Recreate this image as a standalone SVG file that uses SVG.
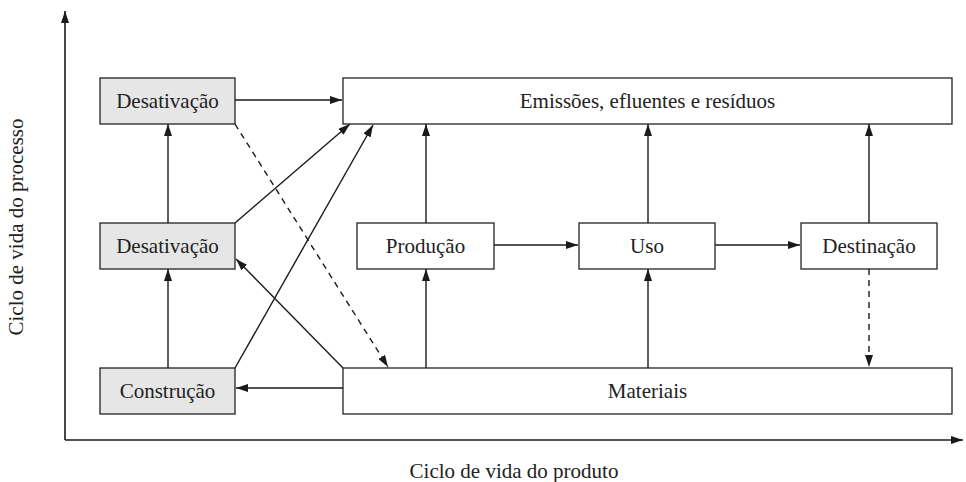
<svg xmlns="http://www.w3.org/2000/svg" width="966" height="482" viewBox="0 0 966 482">
<defs>
<marker id="ah" viewBox="0 0 12 8" refX="12" refY="4" markerWidth="12" markerHeight="8" markerUnits="userSpaceOnUse" orient="auto">
<path d="M0,0 L12,4 L0,8 Z" fill="#1a1a1a"/>
</marker>
</defs>
<style>
text{font-family:"Liberation Serif","Times New Roman",serif;font-size:21px;fill:#222;}
.box{fill:#fff;stroke:#222;stroke-width:1.3;}
.grey{fill:#e6e6e6;stroke:#222;stroke-width:1.3;}
.c{fill:none;stroke:#1a1a1a;stroke-width:1.4;marker-end:url(#ah);}
.d{stroke-dasharray:6,5;}
.axis{fill:none;stroke:#1a1a1a;stroke-width:1.6;marker-end:url(#ah);}
</style>
<rect width="966" height="482" fill="#fff"/>
<g id="axes">
<path class="axis" d="M65,440 L65,11"/>
<path class="axis" d="M65,440 L963,440"/>
<text x="514" y="478" text-anchor="middle">Ciclo de vida do produto</text>
<text x="0" y="0" text-anchor="middle" transform="translate(23,227) rotate(-90)">Ciclo de vida do processo</text>
</g>
<g id="connectors">
<path class="c" d="M235,100 L342,100"/>
<path class="c" d="M168,223 L168,124"/>
<path class="c" d="M168,368 L168,269"/>
<path class="c" d="M235,223 L350,124"/>
<path class="c" d="M235,368 L373,125"/>
<path class="c" d="M343,368 L236,259"/>
<path class="c" d="M343,388 L236,388"/>
<path class="c d" d="M235,124 L388,367"/>
<path class="c" d="M426,368 L426,269"/>
<path class="c" d="M426,223 L426,124"/>
<path class="c" d="M494,245 L578,245"/>
<path class="c" d="M648,223 L648,124"/>
<path class="c" d="M648,368 L648,269"/>
<path class="c" d="M715,245 L800,245"/>
<path class="c" d="M869,223 L869,124"/>
<path class="c d" d="M869,269 L869,367"/>
</g>
<g id="desativacao-top">
<rect class="grey" x="100" y="78" width="135" height="46"/>
<text x="167.5" y="108" text-anchor="middle">Desativação</text>
</g>
<g id="emissoes">
<rect class="box" x="343" y="78" width="609" height="46"/>
<text x="647.5" y="108" text-anchor="middle">Emissões, efluentes e resíduos</text>
</g>
<g id="desativacao-mid">
<rect class="grey" x="100" y="223" width="135" height="46"/>
<text x="167.5" y="253" text-anchor="middle">Desativação</text>
</g>
<g id="producao">
<rect class="box" x="357" y="223" width="137" height="46"/>
<text x="425.5" y="253" text-anchor="middle">Produção</text>
</g>
<g id="uso">
<rect class="box" x="579" y="223" width="136" height="46"/>
<text x="647" y="253" text-anchor="middle">Uso</text>
</g>
<g id="destinacao">
<rect class="box" x="801" y="223" width="136" height="46"/>
<text x="869" y="253" text-anchor="middle">Destinação</text>
</g>
<g id="construcao">
<rect class="grey" x="100" y="368" width="135" height="46"/>
<text x="167.5" y="398" text-anchor="middle">Construção</text>
</g>
<g id="materiais">
<rect class="box" x="343" y="368" width="609" height="46"/>
<text x="647.5" y="398" text-anchor="middle">Materiais</text>
</g>
</svg>
